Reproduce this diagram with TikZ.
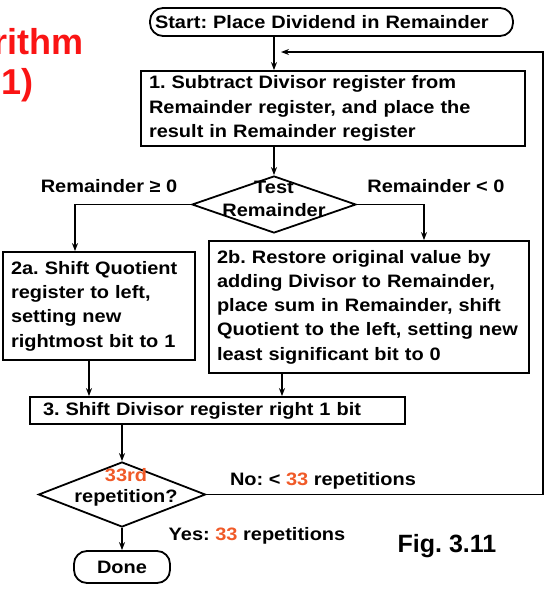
\documentclass[tikz,border=0pt]{standalone}
\usepackage{fontspec}
\setmainfont{Liberation Sans}[FakeStretch=1.11]
\newfontfamily\figfont{Liberation Sans}
\usetikzlibrary{shapes.geometric,arrows.meta,calc}
\definecolor{numorange}{RGB}{240,90,40}
\definecolor{titlered}{RGB}{250,20,20}
\begin{document}
\frenchspacing
\begin{tikzpicture}[x=1pt,y=-1pt,
  every node/.style={font=\fontsize{18}{24.3}\selectfont\bfseries},
  box/.style={draw,line width=1.8pt,rectangle,align=left,inner xsep=7pt,inner ysep=0pt},
  term/.style={draw,line width=1.8pt,rounded corners=13pt,inner sep=0pt},
  dia/.style={draw,line width=1.8pt,diamond,inner sep=0pt},
  arr/.style={line width=1.8pt,-{Stealth[length=8pt,width=6pt]}},
  lbl/.style={inner sep=0pt}]
\useasboundingbox (0,0) rectangle (553,589);
% title fragments
\node[lbl,anchor=base east,text=titlered,font=\figfont\bfseries\fontsize{36}{36}\selectfont] (t1) at (84,54) {rithm};
\node[lbl,anchor=base east,text=titlered,font=\figfont\bfseries\fontsize{36}{36}\selectfont] (t2) at (34,94) {1)};
% nodes
\node[term,minimum width=363pt,minimum height=28pt,text width=353pt,align=left] (start) at (331.5,22) {Start: Place Dividend in Remainder};
\node[box,minimum width=384pt,minimum height=75pt,text width=368pt] (box1) at (333,108.5)
  {1. Subtract Divisor register from\\Remainder register, and place the\\result in Remainder register};
\node[dia,minimum width=164pt,minimum height=57pt] (d1) at (274,204.5) {};
\node[lbl,align=center,font=\fontsize{18}{23}\selectfont\bfseries] (d1t) at (274,198.5) {Test\\Remainder};
\node[box,minimum width=192pt,minimum height=108pt,text width=176pt] (box2a) at (99,306)
  {2a. Shift Quotient\\register to left,\\setting new\\rightmost bit to 1};
\node[box,minimum width=320pt,minimum height=132pt,text width=304pt] (box2b) at (369,307)
  {2b. Restore original value by\\adding Divisor to Remainder,\\place sum in Remainder, shift\\Quotient to the left, setting new\\least significant bit to 0};
\node[box,minimum width=375pt,minimum height=27pt,text width=349pt] (box3) at (217.5,410.5)
  {3. Shift Divisor register right 1 bit};
\node[dia,minimum width=167pt,minimum height=65pt] (d2) at (122,494.5) {};
\node[lbl,align=center,font=\fontsize{18}{21}\selectfont\bfseries] (d2t) at (126,487.5) {\textcolor{numorange}{33rd}\\repetition?};
\node[term,minimum width=96pt,minimum height=32pt] (done) at (122,567) {Done};
% labels
\node[lbl] (lge) at (109,186) {Remainder ≥ 0};
\node[lbl] (llt) at (436,186) {Remainder < 0};
\node[lbl] (lno) at (323,481) {No: < \textcolor{numorange}{33} repetitions};
\node[lbl] (lyes) at (257,536) {Yes: \textcolor{numorange}{33} repetitions};
\node[lbl,font=\figfont\bfseries\fontsize{25}{25}\selectfont] (fig) at (447,546) {Fig. 3.11};
% coordinates
\coordinate (c1) at (274,0);
\coordinate (xa) at (75,0);
\coordinate (xb) at (424,0);
\coordinate (xc) at (89,0);
\coordinate (xd) at (282,0);
\coordinate (rt) at (543,52);
\coordinate (loopin) at (281,52);
% connectors
\draw[arr] (start.south -| c1) -- (box1.north -| c1);
\draw[arr] (box1.south -| c1) -- (d1.north);
\draw[arr] (d1.west) -| (box2a.north -| xa);
\draw[arr] (d1.east) -| (box2b.north -| xb);
\draw[arr] (box2a.south -| xc) -- (box3.north -| xc);
\draw[arr] (box2b.south -| xd) -- (box3.north -| xd);
\draw[arr] (box3.south -| d2.north) -- (d2.north);
\draw[arr] (d2.south) -- (done.north -| d2.south);
\draw[arr] (d2.east) -| (rt) -- (loopin);
\end{tikzpicture}
\end{document}
